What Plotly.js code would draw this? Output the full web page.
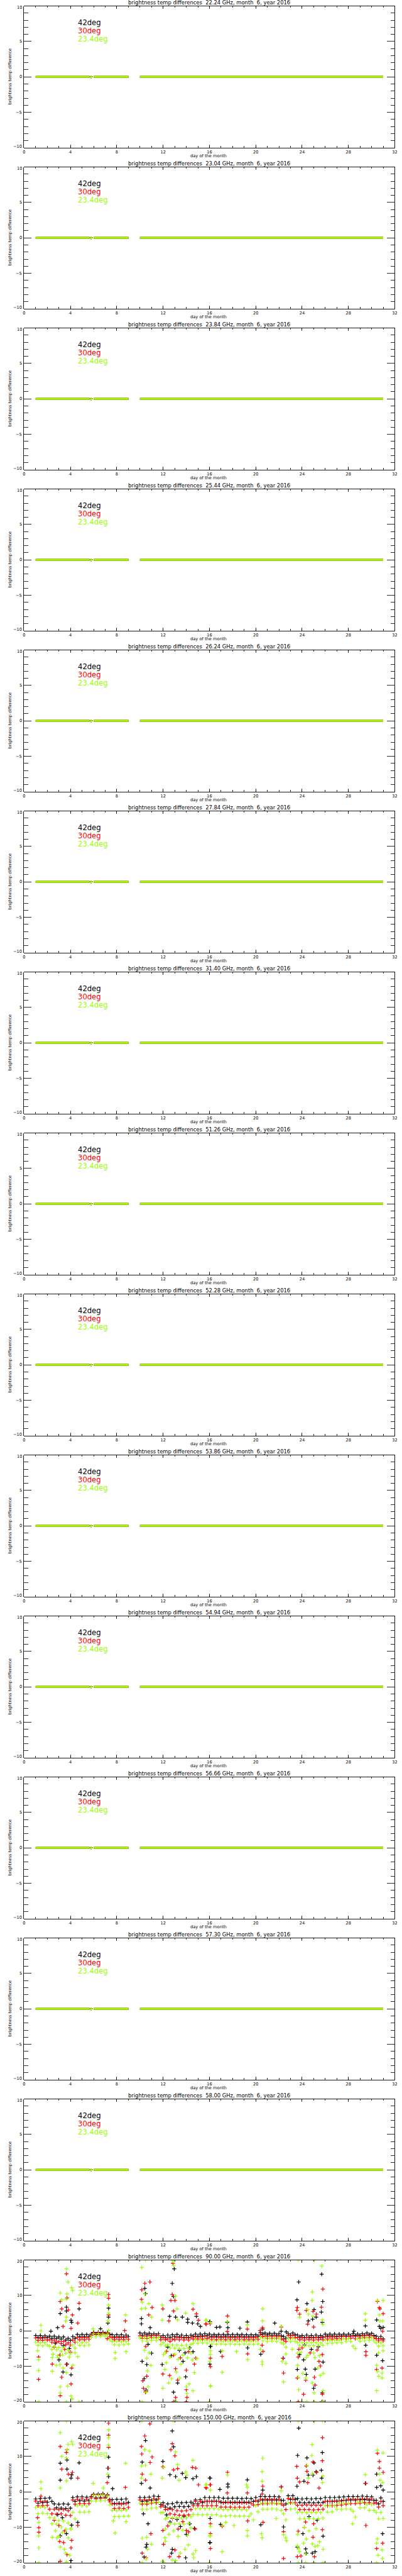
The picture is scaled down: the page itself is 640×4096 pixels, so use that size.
<!DOCTYPE html>
<html><head><meta charset="utf-8">
<script src="https://cdn.plot.ly/plotly-3.0.1.min.js"></script>
<style>html,body{margin:0;padding:0;background:#fff;overflow:hidden}#chart{width:640px;height:4096px}#warn{position:absolute;top:0;left:0;color:red;font:12px sans-serif;z-index:9}</style>
</head><body><div id="warn"></div><div id="chart"></div>
<script>
// ---------------- DATA ----------------
const panelFreqs = ['22.24','23.04','23.84','25.44','26.24','27.84','31.40','51.26','52.28','53.86','54.94','56.66','57.30','58.00','90.00','150.00'];
const seriesNames = ['42deg','30deg','23.4deg'];
const seriesColors = ['#000000','#ff0000','#99ff00'];
const monthLabel = '6';
const yearLabel = '2016';
const xTickVals = [0,4,8,12,16,20,24,28,32];
const yTickValsSmall = [10,5,0,-5,-10];
const yTickValsBig = [20,10,0,-10,-20];

// flat channels (all three elevation differences are 0)
const flatSegStartDay = [1.0, 6.0, 10.0];
const flatSegEndDay   = [5.65, 9.02, 31.0];
const flatSeg42  = [0, 0, 0];
const flatSeg30  = [0, 0, 0];
const flatSeg234 = [0, 0, 0];
const flatSingleDay = [5.8];
const flatSingle42 = [0], flatSingle30 = [0], flatSingle234 = [0];

// band samples shared by 90 and 150 GHz panels
const bandDays = [
1.0,1.2,1.4,1.6,1.8,2.0,2.2,2.4,2.6,2.8,
3.0,3.2,3.4,3.6,3.8,4.0,4.2,4.4,4.6,4.8,
5.0,5.2,5.4,5.6,5.8,
6.0,6.2,6.4,6.6,6.8,7.0,7.2,7.4,7.6,7.8,
8.0,8.2,8.4,8.6,8.8,9.0,
10.0,10.2,10.4,10.6,10.8,11.0,11.2,11.4,11.6,11.8,
12.0,12.2,12.4,12.6,12.8,13.0,13.2,13.4,13.6,13.8,
14.0,14.2,14.4,14.6,14.8,15.0,15.2,15.4,15.6,15.8,
16.0,16.2,16.4,16.6,16.8,17.0,17.2,17.4,17.6,17.8,
18.0,18.2,18.4,18.6,18.8,19.0,19.2,19.4,19.6,19.8,
20.0,20.2,20.4,20.6,20.8,21.0,21.2,21.4,21.6,21.8,
22.0,22.2,22.4,22.6,22.8,23.0,23.2,23.4,23.6,23.8,
24.0,24.2,24.4,24.6,24.8,25.0,25.2,25.4,25.6,25.8,
26.0,26.2,26.4,26.6,26.8,27.0,27.2,27.4,27.6,27.8,
28.0,28.2,28.4,28.6,28.8,29.0,29.2,29.4,29.6,29.8,
30.0,30.2,30.4,30.6,30.8,31.0];

const band90_42 = [
-1.3,-1.9,-1.3,-1.9,-1.4,-1.9,-1.5,-2.1,-1.5,-2.1,
-1.7,-2.3,-1.7,-2.6,-2.1,-2.7,-1.6,-2.1,-1.0,-1.6,
-1.0,-1.6,-1.0,-1.6,-0.9,
-0.4,-0.9,-0.4,-0.8,-0.4,-0.8,-0.5,-1.0,-1.1,-1.7,
-1.1,-1.7,-1.1,-1.7,-1.2,-1.6,
-0.6,-1.2,-0.6,-1.1,-0.7,-1.2,-0.8,-1.2,-0.8,-1.8,
-1.3,-1.9,-1.2,-1.8,-1.1,-1.6,-1.0,-1.7,-1.2,-1.9,
-1.3,-1.9,-1.2,-1.5,-0.9,-1.5,-0.9,-1.4,-0.8,-1.3,
-0.9,-1.5,-1.0,-1.5,-1.0,-1.6,-1.0,-1.5,-1.0,-1.6,
-1.0,-1.6,-1.0,-1.5,-1.0,-1.6,-1.1,-1.6,-1.1,-1.6,
-1.1,-1.5,-0.5,-0.9,-0.6,-1.1,-0.7,-1.2,-0.7,-1.2,
-0.8,-1.4,-1.6,-2.1,-0.8,-1.2,-0.6,-1.1,-1.2,-1.7,
-1.3,-1.9,-1.2,-1.8,-1.3,-1.9,-1.2,-1.8,-1.3,-1.7,
-0.9,-1.4,-0.9,-1.4,-0.9,-1.5,-0.9,-1.4,-0.9,-1.4,
-0.9,-1.4,-0.8,-1.3,-0.9,-1.3,-0.8,-1.2,-0.6,-1.1,
-0.7,-1.3,-1.5,-2.2,-1.6,-2.3];
const band90_30 = [
-2.0,-2.7,-2.1,-2.7,-2.0,-2.6,-2.5,-3.2,-2.6,-3.2,
-3.0,-3.6,-3.0,-3.9,-3.4,-4.0,-2.6,-3.2,-1.9,-2.5,
-1.9,-2.5,-1.9,-2.4,-1.3,
-0.6,-1.1,-0.6,-1.1,-0.6,-1.0,-0.7,-1.7,-1.9,-2.5,
-1.9,-2.5,-1.9,-2.5,-1.8,-2.4,
-1.4,-2.1,-1.5,-2.1,-1.4,-1.9,-1.3,-1.9,-1.3,-2.5,
-1.9,-2.5,-2.3,-2.9,-2.3,-2.5,-1.9,-2.5,-1.9,-2.6,
-2.0,-2.6,-1.9,-2.3,-1.7,-2.3,-1.7,-2.3,-1.6,-2.2,
-1.8,-2.4,-1.8,-2.5,-1.8,-2.4,-1.8,-2.5,-1.9,-2.4,
-1.8,-2.5,-1.9,-2.4,-1.8,-2.5,-1.9,-2.5,-1.9,-2.5,
-1.9,-2.4,-1.1,-1.6,-1.5,-2.1,-1.5,-2.1,-1.5,-2.1,
-1.5,-2.2,-2.5,-3.0,-1.3,-1.9,-1.3,-1.9,-1.9,-2.5,
-2.0,-2.6,-1.9,-2.5,-2.0,-2.6,-1.9,-2.5,-2.0,-2.5,
-1.7,-2.3,-1.7,-2.3,-1.7,-2.2,-1.6,-2.2,-1.6,-2.2,
-1.6,-2.1,-1.5,-2.2,-1.5,-2.0,-1.4,-1.9,-1.3,-1.9,
-1.4,-2.0,-2.2,-2.8,-2.2,-2.8];
const band90_234 = [
-3.2,-4.1,-3.3,-4.2,-3.3,-4.0,-4.3,-5.2,-4.4,-5.3,
-4.7,-5.7,-4.8,-6.3,-5.4,-6.4,-4.0,-4.9,-3.2,-4.1,
-3.3,-4.2,-3.2,-4.0,-1.8,
-0.8,-1.6,-0.8,-1.5,-0.9,-1.5,-1.0,-2.5,-3.0,-3.9,
-3.0,-4.0,-3.1,-3.9,-3.0,-3.7,
-1.9,-2.8,-2.0,-2.9,-2.0,-2.7,-1.9,-2.7,-1.9,-3.9,
-3.3,-4.2,-3.9,-4.8,-4.0,-4.9,-4.0,-5.0,-4.1,-5.0,
-4.0,-4.9,-3.8,-3.5,-2.6,-3.5,-2.6,-3.4,-2.6,-3.5,
-2.8,-3.7,-2.8,-3.8,-2.8,-3.7,-2.9,-3.8,-2.8,-3.7,
-2.8,-3.8,-2.9,-3.8,-2.8,-3.7,-2.9,-3.8,-2.9,-3.8,
-2.8,-3.7,-1.9,-2.8,-2.1,-3.0,-2.1,-2.9,-2.1,-3.0,
-2.2,-3.3,-3.7,-4.6,-2.2,-3.0,-2.1,-2.9,-3.3,-4.2,
-3.3,-4.3,-3.4,-4.2,-3.3,-4.2,-3.3,-4.1,-3.4,-4.1,
-2.7,-3.6,-2.7,-3.5,-2.7,-3.4,-2.6,-3.3,-2.2,-3.0,
-2.2,-3.0,-4.3,-5.0,-2.2,-2.9,-2.1,-2.8,-1.9,-2.7,
-2.0,-2.8,-3.4,-4.3,-3.4,-4.2];

const band150_42 = [
-2.0,-3.2,-1.9,-3.0,-1.8,-2.9,-1.7,-2.7,-3.4,-4.5,
-3.5,-4.6,-3.4,-4.7,-3.5,-4.6,-1.6,-2.7,-1.4,-2.5,
-1.4,-2.6,-1.5,-2.5,-1.3,
-0.7,-1.7,-0.6,-1.6,-0.5,-1.5,-0.8,-2.2,-2.2,-3.3,
-2.1,-3.2,-2.1,-3.2,-2.0,-3.0,
-1.6,-2.7,-1.6,-2.6,-1.5,-2.4,-1.2,-2.3,-1.3,-3.6,
-3.1,-4.3,-3.4,-4.6,-3.3,-4.2,-3.0,-4.1,-3.1,-4.2,
-3.0,-4.1,-2.9,-3.4,-2.3,-3.4,-2.2,-3.0,-1.6,-2.7,
-1.6,-2.7,-1.6,-2.7,-1.6,-2.9,-1.8,-2.9,-1.8,-2.9,
-1.8,-2.9,-1.8,-2.9,-1.9,-2.9,-1.8,-2.9,-1.9,-2.7,
-1.6,-2.6,-1.3,-2.3,-1.3,-2.3,-1.3,-2.3,-1.3,-2.3,
-1.4,-2.4,-2.4,-3.4,-1.1,-2.1,-1.1,-2.1,-1.9,-3.0,
-2.0,-3.1,-1.9,-3.0,-2.0,-3.1,-1.9,-3.0,-1.9,-3.0,
-1.6,-2.7,-1.6,-2.7,-1.6,-2.6,-1.5,-2.5,-1.4,-2.4,
-1.3,-2.3,-1.3,-2.3,-1.3,-2.2,-1.2,-2.2,-1.3,-2.3,
-1.4,-2.4,-2.4,-3.4,-1.7,-2.7];
const band150_30 = [
-2.6,-3.9,-2.7,-3.9,-2.6,-3.8,-4.9,-6.2,-4.9,-6.3,
-5.0,-6.2,-5.0,-6.6,-5.3,-6.7,-2.3,-3.5,-2.1,-3.3,
-2.0,-3.3,-2.1,-3.3,-1.7,
-0.8,-2.0,-0.8,-1.9,-0.7,-1.8,-1.0,-2.8,-3.4,-4.7,
-3.4,-4.6,-3.5,-4.7,-3.3,-4.4,
-2.3,-3.5,-2.3,-3.5,-2.2,-3.2,-2.0,-3.1,-2.0,-4.2,
-3.8,-5.0,-4.9,-6.2,-5.0,-6.4,-5.3,-6.6,-5.4,-6.6,
-5.3,-6.5,-5.0,-3.9,-2.7,-3.9,-2.7,-3.9,-2.7,-3.9,
-2.7,-3.9,-2.6,-3.9,-2.7,-4.3,-3.1,-4.3,-3.0,-4.3,
-3.1,-4.4,-3.1,-4.3,-3.1,-4.4,-3.1,-4.3,-3.2,-3.7,
-2.5,-3.6,-2.1,-3.3,-2.1,-3.3,-2.1,-3.2,-2.1,-3.3,
-2.1,-3.4,-3.8,-5.0,-1.9,-3.1,-2.0,-3.1,-3.8,-5.0,
-3.8,-5.0,-3.7,-5.0,-3.8,-5.1,-3.8,-5.0,-3.8,-4.9,
-2.7,-3.9,-2.7,-3.9,-2.6,-3.8,-2.6,-3.7,-2.4,-3.5,
-2.1,-3.3,-2.1,-3.3,-2.1,-3.2,-2.0,-3.1,-2.0,-3.1,
-2.0,-3.2,-3.1,-4.3,-2.7,-3.9];
const band150_234 = [
-4.4,-6.1,-4.3,-6.0,-4.4,-6.1,-7.3,-9.0,-7.4,-9.1,
-8.1,-9.9,-8.2,-10.6,-8.8,-10.5,-5.8,-7.6,-3.9,-5.7,
-3.9,-5.7,-4.0,-5.6,-2.6,
-1.0,-2.6,-1.0,-2.5,-0.9,-2.4,-1.2,-3.7,-5.2,-7.0,
-5.3,-7.0,-5.2,-6.9,-5.1,-6.8,
-3.2,-4.9,-3.2,-4.9,-3.1,-4.6,-2.9,-4.5,-2.9,-5.9,
-5.8,-7.6,-7.3,-9.0,-7.3,-9.1,-7.3,-9.0,-7.4,-9.1,
-7.3,-8.9,-7.0,-6.4,-4.7,-6.4,-4.7,-6.5,-4.7,-6.4,
-4.7,-6.5,-4.7,-6.4,-4.8,-6.8,-5.0,-6.8,-5.0,-6.7,
-5.0,-6.8,-5.0,-6.8,-5.0,-6.8,-5.1,-6.9,-6.2,-7.9,
-3.9,-5.6,-3.2,-4.9,-3.2,-4.9,-3.2,-4.8,-3.2,-4.9,
-3.2,-5.2,-6.2,-7.9,-3.2,-4.9,-3.2,-4.8,-5.8,-7.6,
-5.8,-7.6,-5.9,-7.5,-5.8,-7.6,-5.9,-7.6,-5.8,-7.4,
-3.9,-5.7,-3.9,-5.6,-3.9,-4.9,-3.2,-4.9,-3.2,-4.8,
-3.2,-4.9,-5.5,-7.1,-2.9,-4.5,-2.8,-4.5,-3.5,-5.2,
-3.6,-5.2,-5.8,-7.6,-5.8,-7.5];

// scattered points [day, difference]
const out90_42 = [[3.12,4.9],[3.65,6.7],[3.65,5.6],[4.05,3.0],[4.1,2.4],[4.75,6.2],[4.05,-12.4],[3.7,-9.4],[2.31,-0.1],[2.89,0.9],
[3.01,-8.2],[3.36,-11.6],[6.6,0.6],[7.23,2.2],[7.29,6.4],[7.29,3.9],[10.13,2.0],[10.13,3.5],[10.42,12.0],[10.48,10.5],
[10.19,-8.6],[10.36,-13.5],[10.53,-16.7],[10.59,-9.5],[11.0,-6.3],[10.88,0.9],[11.92,-9.5],[12.56,4.1],[12.79,13.4],[12.9,9.7],
[12.96,17.5],[13.08,3.9],[13.25,-14.7],[12.9,-17.3],[13.66,3.9],[13.72,-8.6],[13.95,-13.0],[14.12,3.3],[14.12,2.4],[14.53,2.2],
[14.58,-5.9],[14.87,4.1],[14.99,2.0],[15.22,1.25],[16.03,2.6],[16.09,-4.4],
[16.03,2.6],[16.03,-9.4],[16.09,-4.4],[16.61,1.0],[16.9,1.1],[16.96,-5.8],[17.59,0.9],[17.54,2.4],[18.63,0.75],[19.27,2.5],
[19.3,-4.8],[20.43,-6.6],[20.6,0.5],[21.64,2.2],[22.19,-0.1],[22.36,-7.7],[22.63,-0.3],[23.56,8.75],[23.71,13.8],[23.59,-10.9],
[23.78,-6.7],[24.13,-8.2],[24.28,-10.8],[24.42,7.7],[24.54,2.8],[24.36,-12.3],[25.03,6.0],[24.9,3.3],[25.0,-16.2],[25.12,-10.8],
[25.21,3.9],[25.66,5.3],[25.69,16.0],[25.78,8.3],[25.75,2.4],[25.81,-8.8],[25.75,-17.5],[28.47,-0.1],[29.46,1.4],[29.49,-4.05],
[30.44,3.1],[30.44,-6.9],[30.67,1.25],[30.79,0.7],[30.95,-8.4],[31.0,1.0],[13.1,-20],[25.7,-20],
[2.7,-3.5],[3.4,-4.2],[3.9,-5.0],[10.7,-3.8],[12.4,-4.6],[12.7,-7.0],[13.4,-5.5],[13.9,-6.2],[14.3,-4.8],[24.2,-4.0],[24.8,-5.2],[25.4,-4.5]];
const out90_30 = [[1.25,-7.4],[1.25,-13.7],[3.12,8.3],[3.24,6.2],[3.24,-13.1],[3.12,-18.3],[3.65,16.1],[3.7,9.3],[3.82,5.9],[4.17,4.5],
[4.05,0.7],[4.1,-10.5],[4.05,-15.0],[3.65,-9.5],[3.36,1.25],[4.63,2.2],[4.75,7.8],[2.43,-9.4],[7.29,10.3],[7.29,9.2],
[7.29,4.5],[7.18,-2.2],[8.74,2.8],[8.68,0.1],[10.16,11.6],[10.13,8.9],[10.25,-14.1],[10.3,-16.2],[10.42,13.4],[10.48,-17.3],
[10.53,-17.1],[10.59,-12.8],[10.86,13.8],[10.76,4.5],[11.05,6.6],[11.98,6.2],[11.98,-12.2],[12.5,2.8],[12.56,-12.6],[12.79,10.3],
[12.85,19.1],[12.67,8.6],[13.02,8.6],[13.08,-18.8],[12.9,5.6],[13.08,-10.7],[13.25,-13.9],[14.0,-16.6],[14.06,-18.8],[14.0,-11.1],
[14.58,6.1],[14.7,-9.4],[14.82,-7.7],[14.87,4.8],[15.05,3.0],[15.68,2.0],[16.09,-7.7],[16.09,-10.1],
[15.72,1.9],[16.06,2.0],[17.1,-7.2],[17.56,4.2],[17.54,-0.2],[19.27,0.5],[19.3,-6.5],[20.37,0.1],[20.58,0.9],[20.55,-4.05],
[20.63,-5.8],[22.2,1.1],[22.4,-11.9],[22.36,-7.7],[23.55,5.8],[23.59,6.6],[23.78,4.7],[23.59,-13.3],[23.67,-7.4],[23.72,-5.2],
[24.13,-17.9],[24.31,-13.9],[24.36,5.8],[24.48,1.9],[24.94,5.5],[25.12,-15.3],[25.06,-13.1],[25.0,1.1],[25.23,4.7],[25.46,-8.6],
[25.58,-9.9],[25.67,6.7],[25.75,-17.9],[25.79,11.8],[25.75,-6.7],[29.51,-5.9],[29.51,-6.9],[30.44,-10.9],[30.5,8.3],[30.67,6.55],
[30.72,6.2],[31.0,4.85],[30.9,-10.5],[30.95,-0.1],[12.9,-20],[14.0,-20],[23.67,-20],[25.79,-20],
[2.6,-4.6],[3.1,-6.8],[3.5,-5.2],[4.0,-6.0],[10.5,-4.4],[12.3,-5.8],[12.9,-6.9],[13.5,-7.6],[14.2,-5.9],[24.0,-4.8],[24.7,-6.2],[25.3,-5.4]];
const out90_234 = [[1.45,1.6],[1.45,0.0],[1.25,-11.2],[1.25,-8.1],[1.16,-5.6],[3.12,10.7],[3.24,8.75],[3.12,-15.8],[3.12,-17.5],[3.1,-9.5],
[3.65,17.5],[3.7,10.4],[3.65,8.9],[3.79,13.8],[4.1,12.2],[4.19,11.4],[3.65,3.9],[3.59,2.8],[3.36,-10.5],[3.65,-11.8],
[3.76,-15.6],[4.05,-18.4],[4.14,-19.2],[2.43,-11.4],[2.43,-7.5],[2.78,-9.7],[2.89,-7.5],[4.2,-9.7],[4.63,-7.3],[5.96,0.6],
[7.29,7.3],[7.29,5.0],[7.23,2.8],[7.29,0.1],[7.87,-6.1],[7.85,-7.8],[8.76,4.5],[8.8,-5.9],[10.16,17.9],[10.19,8.1],
[10.13,6.2],[10.42,10.4],[10.48,6.4],[10.53,-17.3],[10.71,-15.8],[10.65,-11.3],[10.59,-7.7],[10.94,-9.7],[10.76,7.7],[11.0,3.9],
[11.92,7.3],[11.92,3.0],[12.04,-6.7],[11.98,-16.2],[12.15,-10.9],[12.27,-9.0],[12.48,-14.7],[12.73,-13.5],[12.85,19.8],[12.9,18.5],
[13.08,9.8],[13.2,6.2],[13.25,3.1],[13.42,-13.3],[13.14,-11.6],[13.54,-9.4],[13.95,5.0],[14.0,-15.8],[14.06,-17.7],[14.24,-15.0],
[14.58,7.7],[14.53,-8.2],[14.7,-11.8],[14.58,-16.9],[14.93,-7.8],[15.68,3.0],[16.09,-5.6],[16.09,-15.6],
[15.74,3.0],[16.09,2.4],[16.09,-6.7],[16.03,-8.6],[16.12,-15.5],[17.1,-11.7],[17.1,-5.6],[17.54,2.6],[18.34,-5.8],[19.27,1.7],
[19.3,-8.1],[20.6,6.2],[20.58,2.8],[20.55,-8.7],[20.55,-9.5],[20.4,-5.2],[22.2,1.25],[22.4,-14.4],[22.6,-9.2],[22.6,-6.5],
[22.28,-8.6],[23.15,-5.2],[23.67,20],[23.71,-16.6],[23.67,-13.1],[23.61,-9.7],[23.78,3.9],[23.61,-6.3],[24.07,-12.0],[24.31,-13.3],
[24.48,6.0],[24.54,4.7],[24.36,-7.5],[24.88,11.0],[24.86,8.6],[24.94,4.1],[25.06,20],[24.88,-14.7],[25.03,-17.5],[25.12,-7.5],
[25.35,-10.5],[25.58,-12.6],[25.69,18.3],[25.75,3.1],[25.79,1.8],[25.81,-16.9],[25.83,-12.0],[29.46,4.8],[29.46,3.0],[30.5,8.6],
[30.44,-16.9],[30.5,-11.4],[30.44,-9.7],[30.61,-12.8],[30.67,4.5],[30.72,2.8],[30.95,2.8],[31.0,8.6],[30.9,-13.3],[30.9,-11.9],
[30.99,-5.6],[1.27,-20],[3.65,-20],[4.75,-20],[10.19,-20],[10.48,20],[12.95,20],[13.1,-20],[16.03,-20],[24.0,-20],
[24.4,-20],[25.06,-20],[25.75,-20],
[2.5,-6.6],[2.9,-7.0],[3.3,-6.8],[3.9,-7.4],[4.4,-6.2],[10.4,-5.5],[10.8,-6.2],[12.2,-6.0],[12.6,-7.4],[13.0,-6.6],[13.3,-8.0],[13.7,-6.8],[14.1,-7.6],[14.4,-6.3],[23.9,-6.0],[24.5,-6.9],[25.0,-6.3],[25.5,-7.0],[30.6,-6.2]];

const out150_42 = [[3.12,8.1],[3.12,3.3],[3.7,9.0],[3.7,6.4],[4.1,4.8],[4.05,3.9],[4.75,8.2],[4.1,-9.4],[4.63,-8.6],[3.12,-12.4],
[3.65,-11.8],[4.05,-19.4],[7.23,6.7],[7.29,9.8],[7.29,4.3],[7.64,0.9],[10.13,2.4],[10.19,8.4],[10.48,14.5],[10.36,-18.4],
[10.59,-14.8],[10.53,-15.6],[10.88,1.1],[11.98,8.6],[12.59,4.85],[12.79,17.2],[12.9,12.7],[13.08,4.3],[12.79,-16.2],[12.73,-17.3],
[13.66,5.2],[13.95,4.0],[13.95,-18.6],[14.0,-12.0],[14.58,3.7],[14.87,4.3],[14.7,-10.3],[16.03,3.9],[16.03,-14.3],
[16.06,3.9],[16.06,-14.3],[16.06,-7.5],[16.9,0.7],[16.96,-9.2],[17.59,2.2],[17.59,1.4],[19.27,3.4],[20.43,-9.3],[20.6,0.5],
[22.2,1.4],[22.4,-9.9],[23.61,10.3],[23.71,18.0],[23.56,1.6],[23.59,-15.6],[24.16,3.0],[24.42,9.6],[24.54,4.7],[24.07,-11.8],
[24.31,-16.1],[24.36,-17.3],[24.94,4.7],[25.03,8.2],[25.21,5.7],[24.88,-17.3],[25.12,-16.9],[25.66,6.1],[25.75,11.1],[25.69,3.9],
[25.81,-12.5],[29.46,2.4],[30.44,5.0],[30.44,1.25],[30.79,1.7],[31.0,0.5],[30.95,-11.8],
[12.3,-6.5],[12.6,-8.5],[13.2,-7.8],[13.5,-9.8],[13.8,-6.9],[14.3,-9.0],[2.9,-6.4],[3.3,-7.3],[10.3,-6.2],[10.7,-9.0],[24.6,-7.0],[25.3,-8.0]];
const out150_30 = [[1.27,-10.1],[1.27,-11.4],[1.16,-7.3],[1.45,-1.2],[3.12,12.8],[3.24,6.4],[3.12,-19.6],[3.07,-14.0],[3.65,11.1],[3.7,11.9],
[3.82,5.0],[4.17,5.5],[4.1,-13.7],[4.05,-15.8],[3.41,-14.3],[3.7,-17.7],[4.63,3.9],[4.63,-9.5],[7.29,19.4],[7.29,16.0],
[7.29,12.6],[7.27,6.7],[7.18,2.6],[7.35,-2.3],[8.74,1.25],[10.13,12.8],[10.16,10.7],[10.19,5.0],[10.19,-17.3],[10.42,15.8],
[10.48,3.3],[10.53,-18.6],[10.86,19.2],[10.88,8.3],[11.05,9.85],[10.94,-11.8],[11.98,7.1],[11.98,-10.9],[12.04,-14.8],[12.56,-18.3],
[12.67,11.9],[12.79,13.6],[13.02,10.2],[12.9,6.2],[13.25,6.55],[13.02,-16.4],[13.37,-18.3],[14.0,-10.9],[14.53,6.9],[14.82,6.7],
[14.76,-10.5],[15.05,2.0],[15.68,1.25],[16.09,-16.0],[16.09,2.0],
[15.74,1.1],[16.06,2.0],[16.09,-11.8],[16.09,-9.0],[17.1,-9.7],[17.56,5.5],[17.54,-0.3],[19.27,-0.3],[19.3,-8.2],[20.6,1.6],
[20.55,-0.6],[20.63,-8.6],[22.2,1.4],[22.4,-11.25],[22.4,-18.8],[23.54,7.2],[23.59,3.9],[23.78,2.8],[23.59,-18.3],[23.67,-11.1],
[24.36,7.3],[24.42,5.8],[24.48,2.6],[24.19,-10.0],[23.9,-18.1],[24.94,8.45],[24.94,-12.8],[25.06,-18.3],[25.25,5.5],[25.46,1.1],
[25.76,15.3],[25.75,8.8],[25.75,-10.7],[29.51,-9.5],[29.49,2.4],[30.44,-16.0],[30.5,10.9],[30.67,8.6],[30.67,6.7],[30.95,-14.5],
[31.0,5.5],
[2.6,-8.0],[3.0,-9.5],[3.5,-11.0],[12.4,-9.6],[12.8,-7.5],[13.3,-10.5],[13.7,-8.4],[14.2,-11.3],[24.3,-8.5],[25.0,-9.0]];
const out150_234 = [[1.45,2.8],[1.45,0.9],[1.27,-15.8],[1.25,-12.4],[1.27,-8.6],[3.12,16.7],[3.24,10.0],[3.12,-15.6],[3.47,-16.2],[2.84,-13.0],
[3.65,9.6],[3.7,11.9],[3.79,13.4],[4.1,14.2],[4.19,13.4],[3.65,3.1],[3.59,-17.3],[3.94,-17.9],[3.65,-19.8],[4.05,-10.5],
[2.43,-12.8],[3.12,1.1],[5.96,2.4],[6.83,1.1],[7.29,17.5],[7.29,15.3],[7.27,13.2],[7.23,5.0],[7.7,-8.2],[7.85,-11.6],
[8.76,8.1],[8.8,-8.4],[10.16,20],[10.13,3.9],[10.19,-13.1],[10.13,7.3],[10.42,11.9],[10.48,7.5],[10.53,-19.0],[10.59,-12.8],
[10.65,-16.2],[10.82,11.5],[10.94,5.0],[11.0,-14.8],[11.92,3.9],[12.04,6.9],[11.92,-19.6],[12.15,-13.0],[12.21,-13.9],[12.79,-19.2],
[12.85,20],[13.08,11.3],[13.25,7.7],[13.37,3.3],[13.49,-17.3],[13.08,-19.4],[13.95,5.6],[14.06,4.7],[13.89,-16.2],[14.18,-15.0],
[14.58,8.9],[14.58,-17.5],[14.64,-18.6],[14.82,-16.6],[15.68,2.0],[16.09,-12.4],
[15.74,2.0],[16.09,0.5],[16.09,-9.7],[16.03,-12.4],[17.1,-16.9],[17.13,-9.5],[17.56,4.7],[17.42,-8.6],[18.12,-9.5],[19.21,2.0],
[19.27,1.25],[19.27,-10.9],[19.27,-12.4],[20.6,9.5],[20.55,5.7],[20.55,3.0],[20.49,-11.8],[20.55,-13.0],[22.2,0.3],[22.4,-12.1],
[22.58,-13.0],[22.66,-13.8],[21.76,-7.5],[23.67,20],[23.59,-15.2],[23.67,-16.0],[23.78,-16.9],[23.61,-12.0],[24.13,-14.5],[24.36,-13.3],
[24.31,-17.5],[24.42,7.5],[24.54,3.9],[24.86,13.3],[24.83,10.3],[24.9,5.2],[25.06,20],[24.88,-14.7],[25.12,-15.4],[25.35,-15.2],
[25.49,-14.1],[25.76,20],[25.79,4.5],[25.75,2.6],[25.81,-16.2],[29.46,4.85],[28.36,-9.0],[30.5,11.8],[30.67,5.0],[30.72,3.3],
[30.44,-14.5],[30.56,-17.9],[30.5,-13.3],[30.9,-16.4],[30.93,-18.8],[31.0,11.0],[30.95,2.6],
[2.7,-11.0],[3.0,-12.5],[3.3,-11.5],[3.8,-13.0],[12.2,-10.5],[12.5,-12.0],[12.9,-11.0],[13.3,-12.6],[13.7,-10.8],[14.1,-12.3],
[14.4,-10.2],[24.2,-10.0],[24.6,-11.0],[25.2,-10.4],[3.65,20],[1.27,-20],[3.65,-20],[10.19,-20],[12.1,-20],[13.1,-20],
[16.03,-20],[23.67,-20],[24.3,-20],[25.0,-20],[25.8,-20],[30.44,-20]];

// ---------------- RENDER ----------------
const S = 0.64, W = 640, H = 4096;
const checks = [band90_42,band90_30,band90_234,band150_42,band150_30,band150_234];
checks.forEach((a,i)=>{ if(a.length!==bandDays.length) document.getElementById('warn').textContent += ' band'+i+':'+a.length+'/'+bandDays.length; });

const NB = '\u00A0';
function pad6(s){ while(s.length<6) s=' '+s; return s; }
function nb(s){ return s.replace(/ /g, NB); }
function fmtTick(v){ return v<0 ? '\u2212'+String(-v) : String(v); }

const data = [];
const layout = {
  width: W, height: H, margin:{l:0,r:0,t:0,b:0},
  paper_bgcolor:'#ffffff', plot_bgcolor:'#ffffff', showlegend:false,
  annotations: [], font:{family:'DejaVu Sans', color:'#000'}
};
const plotL = 60*S, plotR = 982*S;

const flatVals = [flatSeg42, flatSeg30, flatSeg234];
const flatSingles = [flatSingle42, flatSingle30, flatSingle234];
const scat = {14:[[band90_42,out90_42],[band90_30,out90_30],[band90_234,out90_234]],
              15:[[band150_42,out150_42],[band150_30,out150_30],[band150_234,out150_234]]};

for (let k=0; k<panelFreqs.length; k++){
  const suf = k===0 ? '' : String(k+1);
  const off = 400*k;
  const top = (off+15)*S, bot = (off+367)*S;
  const big = k>=14;
  const yr = big ? [-20,20] : [-10,10];
  layout['xaxis'+suf] = {
    domain:[plotL/W, plotR/W], range:[0,32], anchor:'y'+suf,
    tickmode:'array', tickvals:xTickVals, ticktext:xTickVals.map(String),
    ticks:'inside', ticklen:4.8, tickwidth:0.8, tickcolor:'#000',
    minor:{dtick:1, tick0:0, ticks:'inside', ticklen:2.6, tickwidth:0.8, tickcolor:'#000', showgrid:false},
    showline:true, linecolor:'#000', linewidth:0.9, mirror:'ticks',
    showgrid:false, zeroline:false, fixedrange:true,
    tickfont:{family:'DejaVu Sans', size:6.6, color:'#000'}
  };
  layout['yaxis'+suf] = {
    domain:[1-bot/H, 1-top/H], range: yr, anchor:'x'+suf,
    tickmode:'linear', tick0:0, dtick: big?10:5, showticklabels:false,
    ticks:'inside', ticklen:12, tickwidth:0.8, tickcolor:'#000',
    minor:{dtick: big?2:1, ticks:'inside', ticklen:6.4, tickwidth:0.8, tickcolor:'#000', showgrid:false},
    showline:true, linecolor:'#000', linewidth:0.9, mirror:'ticks',
    showgrid:false, zeroline:false, fixedrange:true
  };
  // y tick labels (end labels sit just inside the frame)
  const yt = big ? yTickValsBig : yTickValsSmall;
  yt.forEach(v=>{
    let py = off + 15 + (yr[1]-v)/(yr[1]-yr[0])*352;
    if (v===yr[1]) py += 3;
    if (v===yr[0]) py -= 3;
    layout.annotations.push({xref:'paper', yref:'paper', x:58.5*S/W, y:1-py*S/H, xanchor:'right', yanchor:'middle',
      text:fmtTick(v), showarrow:false, font:{family:'DejaVu Sans', size:6.6, color:'#000'}});
  });
  // texts
  const title = 'brightness temp differences ' + pad6(panelFreqs[k]) + ' GHz, month  ' + monthLabel + ', year ' + yearLabel;
  layout.annotations.push({xref:'paper', yref:'paper', x:521*S/W, y:1-(off+7)*S/H, xanchor:'center', yanchor:'middle',
    text:nb(title), showarrow:false, font:{family:'DejaVu Sans', size:8.4, color:'#000'}});
  layout.annotations.push({xref:'paper', yref:'paper', x:518.5*S/W, y:1-(off+387)*S/H, xanchor:'center', yanchor:'middle',
    text:'day of the month', showarrow:false, font:{family:'DejaVu Sans', size:6.7, color:'#000'}});
  layout.annotations.push({xref:'paper', yref:'paper', x:25*S/W, y:1-(off+191)*S/H, xanchor:'center', yanchor:'middle', textangle:-90,
    text:'brightness temp difference', showarrow:false, font:{family:'DejaVu Sans', size:6.6, color:'#000'}});
  const legY = [57,77,97];
  for (let s=0; s<3; s++){
    layout.annotations.push({xref:'paper', yref:'paper', x:190.7*S/W, y:1-(off+legY[s])*S/H, xanchor:'left', yanchor:'middle',
      text:seriesNames[s], showarrow:false, font:{family:'DejaVu Sans', size:11.6, color:seriesColors[s]}});
  }
  // traces
  for (let s=0; s<3; s++){
    const c = seriesColors[s];
    if (!big){
      const xs=[], ys=[];
      for (let i=0;i<flatSegStartDay.length;i++){ xs.push(flatSegStartDay[i], flatSegEndDay[i], null); ys.push(flatVals[s][i], flatVals[s][i], null); }
      data.push({type:'scatter', mode:'lines', x:xs, y:ys, xaxis:'x'+suf, yaxis:'y'+suf, hoverinfo:'skip',
        line:{color:c, width:3}});
      data.push({type:'scatter', mode:'markers', x:flatSingleDay, y:flatSingles[s], xaxis:'x'+suf, yaxis:'y'+suf, hoverinfo:'skip',
        marker:{symbol:'cross-thin', size:3.2, color:c, line:{color:c, width:1.3}}});
    } else {
      const [band, outs] = scat[k][s];
      // dense band: consecutive samples joined (broken at data gaps) + crosses
      const bx=[], by=[];
      for (let i=0;i<bandDays.length;i++){
        if (i>0 && bandDays[i]-bandDays[i-1] > 0.15) { bx.push(null); by.push(null); }
        bx.push(bandDays[i]); by.push(band[i]);
      }
      data.push({type:'scatter', mode:'lines+markers', x:bx, y:by, xaxis:'x'+suf, yaxis:'y'+suf, hoverinfo:'skip',
        line:{color:c, width:1.3}, connectgaps:false,
        marker:{symbol:'cross-thin', size:4.6, color:c, line:{color:c, width:1.2}}});
      data.push({type:'scatter', mode:'markers', x:outs.map(p=>p[0]), y:outs.map(p=>p[1]), xaxis:'x'+suf, yaxis:'y'+suf, hoverinfo:'skip',
        marker:{symbol:'cross-thin', size:4.6, color:c, line:{color:c, width:1.2}}});
    }
  }
}
Plotly.newPlot('chart', data, layout, {staticPlot:true, displayModeBar:false});
</script></body></html>
